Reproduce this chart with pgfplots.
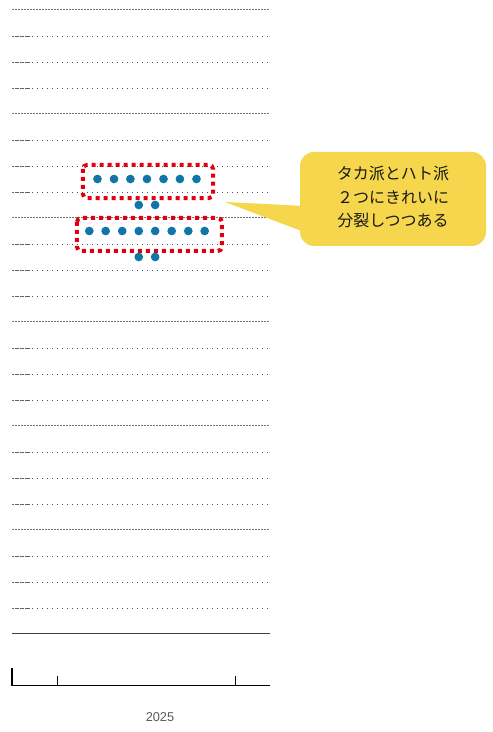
\documentclass[border=0pt]{standalone}
\usepackage{fontspec}
\setmainfont{Liberation Sans}
\newfontfamily\cjk{Noto Sans CJK JP}
\usepackage{pgfplots}
\pgfplotsset{compat=1.18}

\definecolor{dotblue}{RGB}{16,118,168}
\definecolor{boxred}{RGB}{224,0,16}
\definecolor{callout}{RGB}{245,214,76}
\definecolor{yeargray}{RGB}{89,89,89}

\begin{document}
\begin{tikzpicture}
\useasboundingbox (0,0) rectangle (246pt,366pt);
\begin{axis}[
    at={(6pt,23pt)}, anchor=south west,
    scale only axis,
    width=129pt, height=338pt,
    xmin=2024.242, xmax=2025.691,
    ymin=-0.5, ymax=6,
    axis x line=bottom, axis y line=left,
    x axis line style={-, black, line width=0.5pt},
    y axis line style={draw=none, -},
    tick align=inside,
    major tick length=9pt, minor tick length=5pt,
    xtick={2024.242}, xticklabels={},
    minor xtick={2024.5,2025.5},
    major x tick style={black, line width=1pt},
    minor x tick style={black, line width=0.5pt},
    ytick={0.25,0.5,0.75,1.25,1.5,1.75,2.25,2.5,2.75,3.25,3.5,3.75,
           4.25,4.5,4.75,5.25,5.5,5.75},
    yticklabels={},
    major y tick style={black!60, line width=0.4pt, dash pattern=on 1pt off 0.3pt},
    ymajorgrids=true,
    major grid style={black!70, line width=0.4pt, dash pattern=on 0.5pt off 2pt},
    extra y ticks={1,2,3,4,5,6}, extra y tick labels={},
    extra y tick style={grid=major, major tick length=0pt,
        major grid style={black!55, line width=0.5pt, dash pattern=on 1pt off 0.5pt}},
]
% 0% line
\draw[black!75, line width=0.5pt] (axis cs:2024.242,0) -- (axis cs:2025.691,0);

% FOMC dots, 2025
\addplot[only marks, mark=*, mark size=1.95pt, color=dotblue] coordinates {
    (2024.722,4.375) (2024.815,4.375) (2024.907,4.375) (2025.000,4.375)
    (2025.093,4.375) (2025.185,4.375) (2025.278,4.375)
    (2024.954,4.125) (2025.046,4.125)
    (2024.676,3.875) (2024.768,3.875) (2024.861,3.875) (2024.954,3.875)
    (2025.046,3.875) (2025.139,3.875) (2025.232,3.875) (2025.324,3.875)
    (2024.954,3.625) (2025.046,3.625)
};

% groups
\draw[boxred, line width=2pt, dash pattern=on 2pt off 2pt, rounded corners=2pt]
    (axis cs:2024.640,4.510) rectangle (axis cs:2025.371,4.192);
\draw[boxred, line width=2pt, dash pattern=on 2pt off 2pt, rounded corners=2pt]
    (axis cs:2024.607,4.000) rectangle (axis cs:2025.421,3.683);
\end{axis}

% annotations in pixel units
\begin{scope}[x=0.5pt, y=-0.5pt, yshift=366pt]
  \fill[callout] (225,202) -- (304,206) -- (304,232) -- cycle;
  \fill[callout, rounded corners=7pt] (300,152) rectangle (486,246);
  \node[align=center, text=black!90, font=\cjk\fontsize{8pt}{11.8pt}\selectfont]
    at (393,197) {タカ派とハト派\\２つにきれいに\\分裂しつつある};
  \node[text=yeargray, font=\fontsize{6.4pt}{7pt}\selectfont] at (160,717) {2025};
\end{scope}
\end{tikzpicture}
\end{document}
